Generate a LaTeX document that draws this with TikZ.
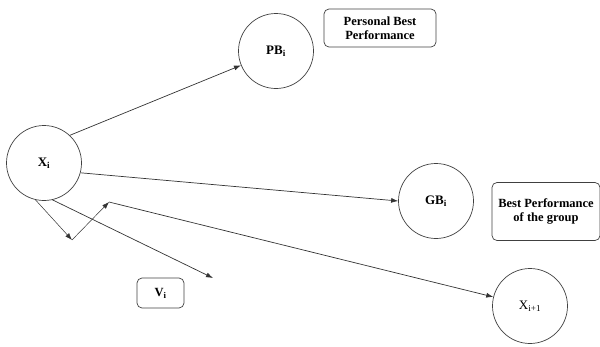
\documentclass[tikz,border=0pt]{standalone}
\usepackage{fontspec}
\setmainfont{Liberation Serif}
\usetikzlibrary{arrows.meta}
\begin{document}
\begin{tikzpicture}[x=1pt,y=-1pt,
  circ/.style={circle,draw=black!75,line width=0.7pt,minimum size=75pt,inner sep=0pt,font=\bfseries\fontsize{13}{14}\selectfont},
  lbox/.style={draw=black!75,line width=0.7pt,rounded corners=5pt,align=center,inner sep=2pt,font=\bfseries\fontsize{12.5}{14}\selectfont},
  conn/.style={draw=black!80,line width=0.7pt,-{Latex[length=7pt,width=5pt]}}]
\useasboundingbox (0,0) rectangle (600,346);
\node[circ] (xi) at (44,163) {X\textsubscript{i}};
\node[circ] (pb) at (276,51) {PB\textsubscript{i}};
\node[circ] (gb) at (436,201) {GB\textsubscript{i}};
\node[circ,font=\fontsize{13}{14}\selectfont] (xn) at (530,306) {X\textsubscript{i+1}};
\node[lbox,minimum width=112pt,minimum height=38pt] (pbt) at (380,28) {Personal Best\\Performance};
\node[lbox,minimum width=108pt,minimum height=58pt] (gbt) at (546,211.5) {Best Performance\\of the group};
\node[lbox,minimum width=47pt,minimum height=30pt] (vi) at (160.5,293) {V\textsubscript{i}};
\coordinate (a) at (72,240);
\coordinate (b) at (109,202);
\coordinate (c) at (213,278);
\draw[conn] (xi.47) -- (pb);
\draw[conn] (xi.-15) -- (gb.west);
\draw[conn,line width=0.5pt] (xi.-103) -- (a);
\draw[conn,line width=0.5pt] (a) -- (b);
\draw[conn] (xi.-77) -- (c);
\draw[conn] (b) -- (xn);
\end{tikzpicture}
\end{document}
